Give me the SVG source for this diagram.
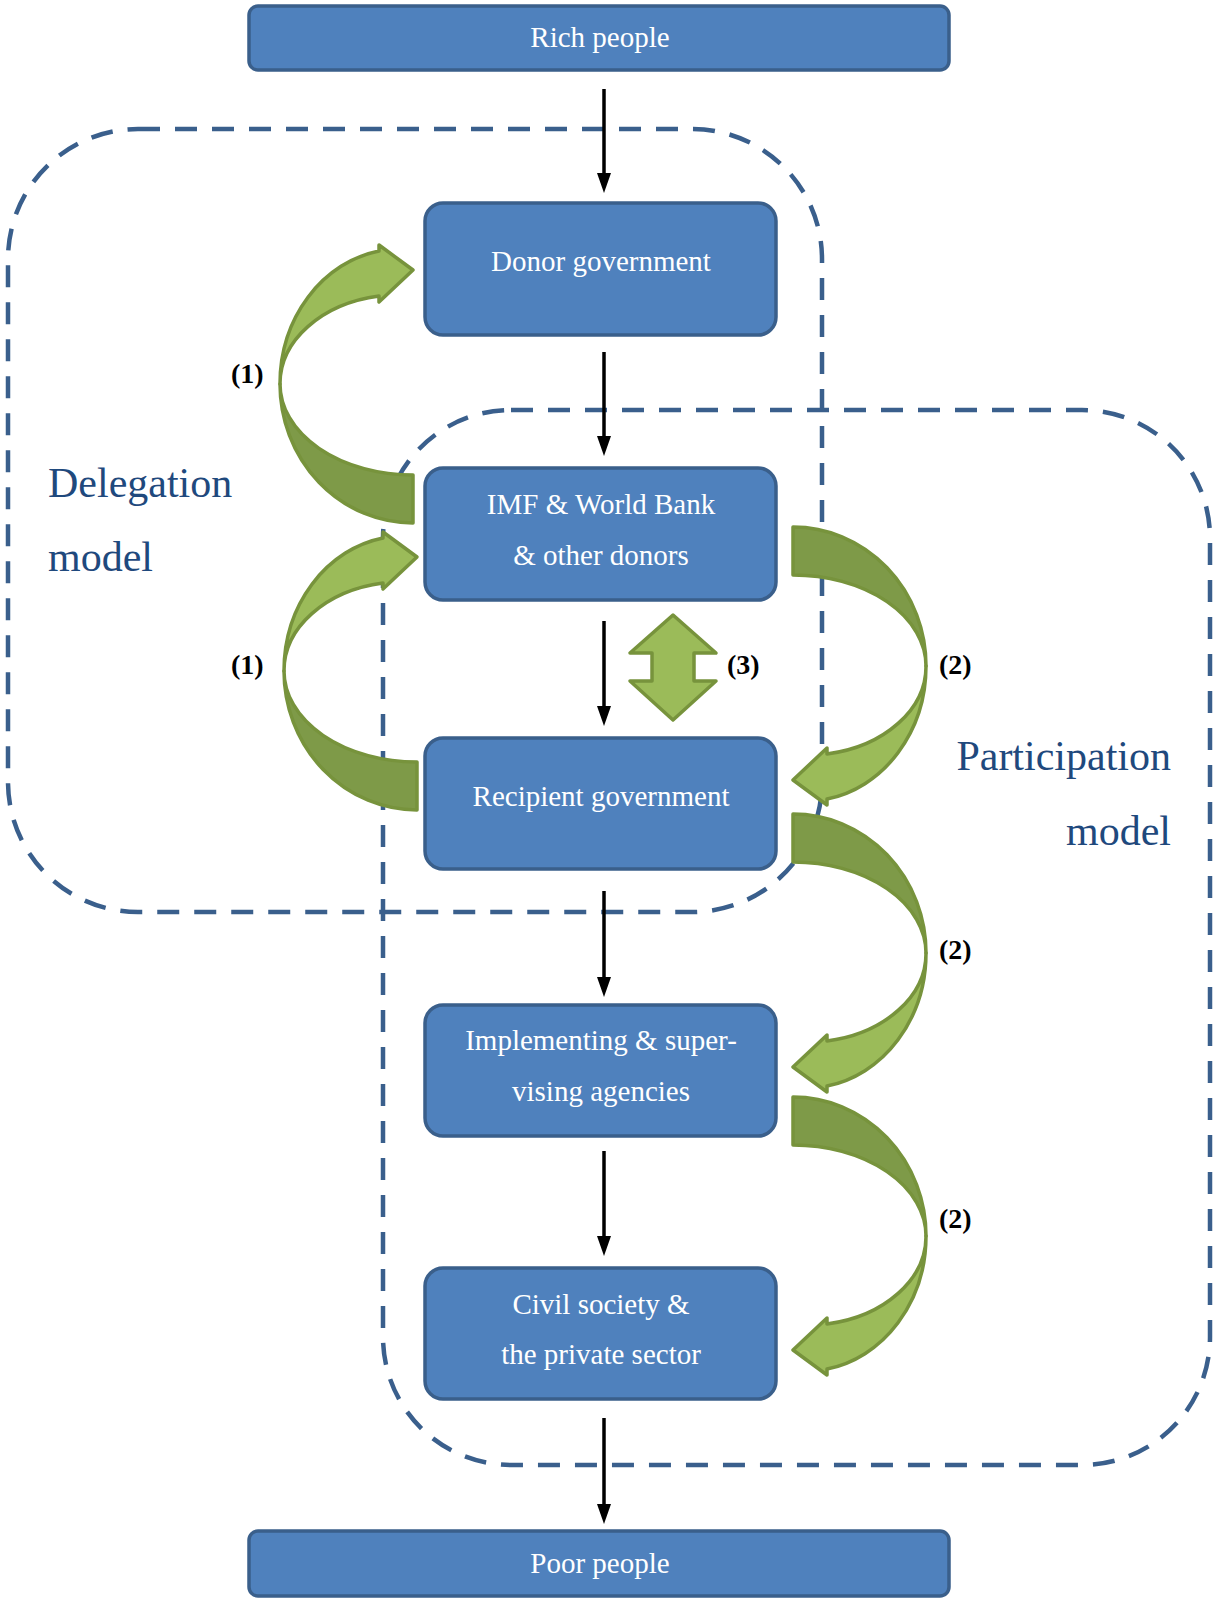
<svg xmlns="http://www.w3.org/2000/svg" xmlns:xlink="http://www.w3.org/1999/xlink" width="1215" height="1599" viewBox="0 0 1215 1599">
  <style>
    .box { fill: #4F81BD; stroke: #3A5F8B; stroke-width: 3.5; }
    .box-text { font-family: "Liberation Serif", "Times New Roman", serif; font-size: 29px; fill: #FFFFFF; text-anchor: middle; }
    .region { fill: none; stroke: #3A5F8C; stroke-width: 4.5; stroke-dasharray: 22 15; }
    .region-text { font-family: "Liberation Serif", "Times New Roman", serif; font-size: 42px; fill: #1F497D; }
    .flow { stroke: #000000; stroke-width: 3.5; fill: none; marker-end: url(#head); }
    .curl-front { fill: #9BBB59; stroke: #77933C; stroke-width: 3.5; stroke-linejoin: round; }
    .curl-back { fill: #7E9A48; stroke: #77933C; stroke-width: 3.5; stroke-linejoin: round; }
    .tag { font-family: "Liberation Serif", "Times New Roman", serif; font-size: 28px; font-weight: bold; fill: #000000; }
  </style>
  <defs>
    <marker id="head" viewBox="0 0 20 14" refX="8" refY="7" markerWidth="20" markerHeight="14" markerUnits="userSpaceOnUse" orient="auto">
      <path d="M0,0 L20,7 L0,14 Z" fill="#000000"/>
    </marker>
    <!-- curled arrow: origin at the tail end, twist point at (-133,0), head pointing right at the top -->
    <g id="curl">
      <path class="curl-back" d="M-133,0 A133,139 0 0 0 0,139 L0,91 A133,91 0 0 1 -133,0 Z"/>
      <path class="curl-front" d="M-133,0 A120,135 0 0 1 -34,-133 L-34,-139 L0,-114 L-34,-82 L-34,-88 A120,89 0 0 0 -133,0 Z"/>
    </g>
  </defs>

  <rect width="1215" height="1599" fill="#FFFFFF"/>

  <!-- model regions -->
  <g id="delegation-model">
    <rect class="region" x="8" y="129" width="814" height="783" rx="130" ry="130"/>
    <text class="region-text" x="48" y="497">Delegation</text>
    <text class="region-text" x="48" y="571">model</text>
  </g>
  <g id="participation-model">
    <rect class="region" x="383" y="410" width="827" height="1055" rx="128" ry="128"/>
    <text class="region-text" x="1171" y="770" text-anchor="end">Participation</text>
    <text class="region-text" x="1171" y="845" text-anchor="end">model</text>
  </g>

  <!-- main flow -->
  <g id="connectors">
    <path class="flow" d="M604,89 V181"/>
    <path class="flow" d="M604,352 V444"/>
    <path class="flow" d="M604,621 V714"/>
    <path class="flow" d="M604,891 V985"/>
    <path class="flow" d="M604,1151 V1244"/>
    <path class="flow" d="M604,1418 V1512"/>
  </g>

  <g id="rich-people">
    <rect class="box" x="249" y="6" width="700" height="64" rx="9"/>
    <text class="box-text" x="600" y="47">Rich people</text>
  </g>
  <g id="donor-government">
    <rect class="box" x="425" y="203" width="351" height="132" rx="18"/>
    <text class="box-text" x="601" y="271">Donor government</text>
  </g>
  <g id="imf-world-bank">
    <rect class="box" x="425" y="468" width="351" height="132" rx="18"/>
    <text class="box-text" x="601" y="514">IMF &amp; World Bank</text>
    <text class="box-text" x="601" y="565">&amp; other donors</text>
  </g>
  <g id="recipient-government">
    <rect class="box" x="425" y="738" width="351" height="131" rx="18"/>
    <text class="box-text" x="601" y="806">Recipient government</text>
  </g>
  <g id="implementing-agencies">
    <rect class="box" x="425" y="1005" width="351" height="131" rx="18"/>
    <text class="box-text" x="601" y="1050">Implementing &amp; super-</text>
    <text class="box-text" x="601" y="1101">vising agencies</text>
  </g>
  <g id="civil-society">
    <rect class="box" x="425" y="1268" width="351" height="131" rx="18"/>
    <text class="box-text" x="601" y="1314">Civil society &amp;</text>
    <text class="box-text" x="601" y="1364">the private sector</text>
  </g>
  <g id="poor-people">
    <rect class="box" x="249" y="1531" width="700" height="65" rx="9"/>
    <text class="box-text" x="600" y="1573">Poor people</text>
  </g>

  <!-- accountability loops -->
  <g id="loops">
    <use xlink:href="#curl" transform="translate(413,384)"/>
    <use xlink:href="#curl" transform="translate(417,671)"/>
    <use xlink:href="#curl" transform="translate(793,666) rotate(180)"/>
    <use xlink:href="#curl" transform="translate(793,953) rotate(180)"/>
    <use xlink:href="#curl" transform="translate(793,1236) rotate(180)"/>
    <path class="curl-front" d="M673,615 L716,653 L694,653 L694,681 L716,681 L673,720 L630,681 L652,681 L652,653 L630,653 Z"/>
  </g>

  <g id="loop-labels">
    <text class="tag" x="231" y="383">(1)</text>
    <text class="tag" x="231" y="674">(1)</text>
    <text class="tag" x="727" y="674">(3)</text>
    <text class="tag" x="939" y="674">(2)</text>
    <text class="tag" x="939" y="959">(2)</text>
    <text class="tag" x="939" y="1228">(2)</text>
  </g>
</svg>
